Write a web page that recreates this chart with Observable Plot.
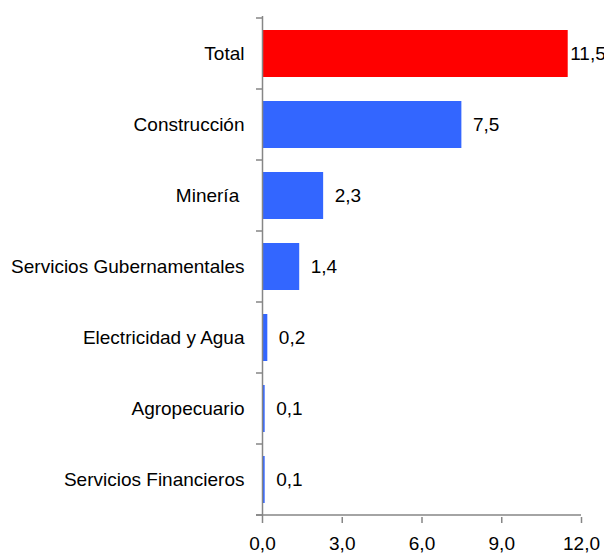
<!DOCTYPE html>
<html>
<head>
<meta charset="utf-8">
<script src="https://cdn.jsdelivr.net/npm/d3@7"></script>
<script src="https://cdn.jsdelivr.net/npm/@observablehq/plot@0.6"></script>
<style>
  html, body { margin: 0; padding: 0; background: #fff; }
  svg { font-family: "Liberation Sans", Arial, sans-serif; }
</style>
</head>
<body>
<div id="chart"></div>
<script>
const categories = ["Total", "Construcción", "Minería\u00a0", "Servicios Gubernamentales", "Electricidad y Agua", "Agropecuario", "Servicios Financieros"];
const values = [11.5, 7.5, 2.3, 1.4, 0.2, 0.1, 0.1];
const highlight = ["Total"];
const xTicks = [0, 3, 6, 9, 12];

const data = categories.map((c, i) => ({category: c, value: values[i]}));
const fmt = v => v.toFixed(1).replace(".", ",");
const axisColor = "#868686";
const fs = 19;

const plot = Plot.plot({
  width: 604,
  height: 556,
  marginLeft: 262,
  marginRight: 23,
  marginTop: 16,
  marginBottom: 39,
  style: {fontFamily: "'Liberation Sans', Arial, sans-serif", fontSize: fs + "px", color: "#000", background: "#fff", overflow: "visible"},
  x: {domain: [0, 12], label: null},
  y: {domain: categories, paddingInner: 0.34, paddingOuter: 0.17, label: null},
  marks: [
    Plot.barX(data, {x: "value", y: "category", fill: d => highlight.includes(d.category) ? "#FF0000" : "#3366FF"}),
    Plot.ruleX([0], {stroke: axisColor, strokeWidth: 1.5}),
    Plot.axisY({tickSize: 0, tickPadding: 18, fontSize: fs, fill: "#000"}),
    Plot.axisX({ticks: xTicks, tickFormat: fmt, tickSize: 6, tickPadding: 13, stroke: axisColor, strokeWidth: 1.5, fontSize: fs, fill: "#000"}),
    Plot.text(data.filter(d => highlight.includes(d.category)), {x: "value", y: "category", text: d => fmt(d.value), textAnchor: "start", dx: 2, fontSize: fs, fill: "#000"}),
    Plot.text(data.filter(d => !highlight.includes(d.category)), {x: "value", y: "category", text: d => fmt(d.value), textAnchor: "start", dx: 11, fontSize: fs, fill: "#000"})
  ]
});

// axis lines and category boundary ticks, placed via the plot's own scales
const xs = plot.scale("x"), ys = plot.scale("y");
const x0 = xs.apply(0), x1 = xs.apply(12);
const svg = d3.select(plot);
const g = svg.append("g").attr("stroke", axisColor).attr("stroke-width", 1.5);
const step = ys.step;
const bands = categories.map(c => ys.apply(c));
const bounds = bands.map(b => b - (step - ys.bandwidth) / 2);
bounds.push(bounds[bounds.length - 1] + step);
bounds.forEach(b => g.append("line").attr("x1", x0 - 6).attr("x2", x0).attr("y1", b).attr("y2", b));
const yBottom = bounds[bounds.length - 1];
g.append("line").attr("x1", x0 - 6).attr("x2", x1).attr("y1", yBottom).attr("y2", yBottom);

document.getElementById("chart").appendChild(plot);
</script>
</body>
</html>
